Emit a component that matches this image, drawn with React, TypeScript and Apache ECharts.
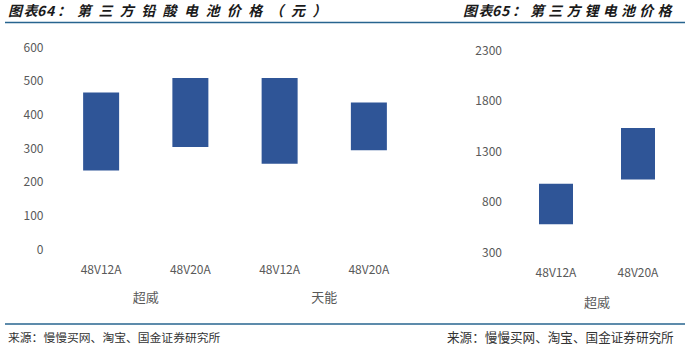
import React, { useEffect, useRef } from "react";
import * as echarts from "echarts";

const leadCategories = ["48V12A", "48V20A", "48V12A", "48V20A"];
const leadGroups = ["超威", "天能"];
const leadLow = [230, 300, 250, 290];
const leadHigh = [462, 505, 505, 432];
const leadTicks = { min: 0, max: 600, interval: 100 };

const liCategories = ["48V12A", "48V20A"];
const liGroups = ["超威"];
const liLow = [565, 1010];
const liHigh = [967, 1520];
const liTicks = { min: 300, max: 2300, interval: 500 };

const titlePrefixLeft = "图表64：";
const titleBodyLeft = "第三方铅酸电池价格（元）";
const titlePrefixRight = "图表65：";
const titleBodyRight = "第三方锂电池价格（";
const sourceText = "来源：慢慢买网、淘宝、国金证券研究所";

const BAR = "#2F5597";
const LINE = "#27648f";
const CJK = "'Noto Sans CJK SC', 'Noto Sans', sans-serif";

function charText(ch: string, x: number, y: number) {
  return {
    type: "text",
    x,
    y,
    style: {
      text: ch,
      fontSize: 14,
      fontWeight: "bold",
      fontStyle: "italic",
      fontFamily: CJK,
      fill: "#1a1a1a",
      verticalAlign: "middle",
      align: "left",
    },
  };
}

function titleChars(prefix: string, body: string, x0: number, bodyX: number, step: number, y: number) {
  const out: any[] = [];
  const prefixSteps = [15.5, 13.5, 9, 11];
  let x = x0;
  prefix.split("").forEach((ch, i) => {
    out.push(charText(ch, x, y));
    x += prefixSteps[i] ?? 14;
  });
  body.split("").forEach((ch, i) => {
    out.push(charText(ch, bodyX + i * step, y));
  });
  return out;
}

export default function App() {
  const ref = useRef<HTMLDivElement>(null);
  useEffect(() => {
    document.body.style.margin = "0";
    const chart = echarts.init(ref.current!, null, { renderer: "svg" });
    const axisLabel = { color: "#595959", fontSize: 12, fontFamily: CJK };
    const baseY = {
      type: "value" as const,
      axisLine: { show: false },
      axisTick: { show: false },
      splitLine: { show: false },
      axisLabel: { ...axisLabel, margin: 13, formatter: (v: number) => String(v) },
    };
    const catX = (gridIndex: number, data: string[]) => ({
      type: "category" as const,
      gridIndex,
      data,
      axisLine: { show: false },
      axisTick: { show: false },
      axisLabel: { ...axisLabel, margin: 14 },
    });
    const groupX = (gridIndex: number, data: string[], offset: number) => ({
      type: "category" as const,
      gridIndex,
      data,
      position: "bottom" as const,
      offset,
      axisLine: { show: false },
      axisTick: { show: false },
      axisLabel: { ...axisLabel, fontSize: 13, margin: 0 },
    });
    const diff = (hi: number[], lo: number[]) => hi.map((v, i) => v - lo[i]);

    chart.setOption({
      animation: false,
      grid: [
        { left: 56.5, top: 46, width: 357, height: 202 },
        { left: 515, top: 49.3, width: 164, height: 201.7 },
      ],
      xAxis: [
        catX(0, leadCategories),
        groupX(0, leadGroups, 42),
        catX(1, liCategories),
        groupX(1, liGroups, 44),
      ],
      yAxis: [
        { ...baseY, gridIndex: 0, ...leadTicks },
        { ...baseY, gridIndex: 1, ...liTicks },
      ],
      series: [
        {
          type: "bar",
          xAxisIndex: 0,
          yAxisIndex: 0,
          stack: "lead",
          data: leadLow,
          barWidth: 36,
          itemStyle: { color: "transparent" },
          silent: true,
        },
        {
          type: "bar",
          xAxisIndex: 0,
          yAxisIndex: 0,
          stack: "lead",
          data: diff(leadHigh, leadLow),
          barWidth: 36,
          itemStyle: { color: BAR },
        },
        {
          type: "bar",
          xAxisIndex: 2,
          yAxisIndex: 1,
          stack: "li",
          data: liLow,
          barWidth: 34,
          itemStyle: { color: "transparent" },
          silent: true,
        },
        {
          type: "bar",
          xAxisIndex: 2,
          yAxisIndex: 1,
          stack: "li",
          data: diff(liHigh, liLow),
          barWidth: 34,
          itemStyle: { color: BAR },
        },
      ],
      graphic: [
        ...titleChars(titlePrefixLeft, titleBodyLeft, 8, 77, 21.4, 10),
        ...titleChars(titlePrefixRight, titleBodyRight, 463, 530, 18.2, 10),
        { type: "line", shape: { x1: 5, y1: 22.5, x2: 685, y2: 22.5 }, style: { stroke: LINE, lineWidth: 1.5 } },
        { type: "line", shape: { x1: 5, y1: 324, x2: 685, y2: 324 }, style: { stroke: LINE, lineWidth: 1.5 } },
        {
          type: "text",
          x: 8,
          y: 336,
          style: { text: sourceText, fontSize: 11.8, fontFamily: CJK, fill: "#333", verticalAlign: "middle" },
        },
        {
          type: "text",
          x: 447,
          y: 336,
          style: { text: sourceText, fontSize: 12.6, fontFamily: CJK, fill: "#333", verticalAlign: "middle" },
        },
      ],
    });
    return () => chart.dispose();
  }, []);
  return <div ref={ref} style={{ width: 685, height: 358 }} />;
}
